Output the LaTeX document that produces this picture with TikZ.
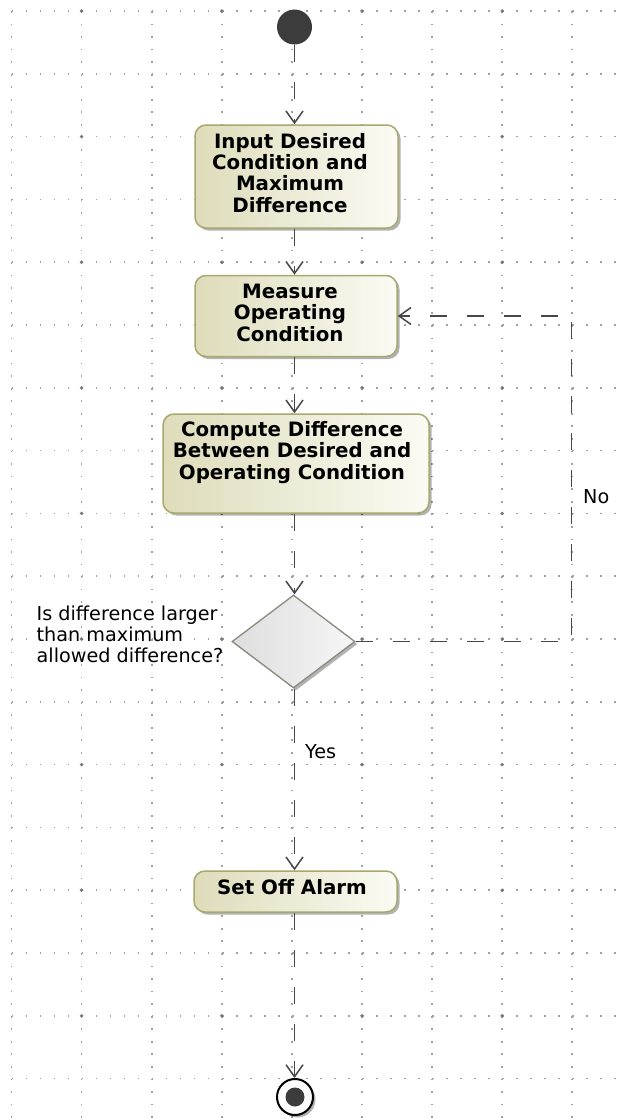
\documentclass[tikz,border=0pt]{standalone}
\usepackage{fontspec}
\setmainfont{DejaVu Sans}
\usetikzlibrary{shapes.geometric,arrows.meta,shadows}

\definecolor{griddot}{RGB}{160,160,160}
\definecolor{gridbig}{RGB}{120,120,120}
\definecolor{flowgray}{RGB}{72,72,72}
\definecolor{boxedge}{RGB}{168,168,112}
\definecolor{boxdark}{RGB}{222,220,186}
\definecolor{boxlight}{RGB}{251,251,244}
\definecolor{decedge}{RGB}{138,138,125}
\definecolor{decdark}{RGB}{222,222,222}
\definecolor{declight}{RGB}{246,246,246}
\definecolor{nodefill}{RGB}{60,60,60}

\tikzset{
  vgrid/.style={draw=griddot, line width=1.7pt, dash pattern=on 1.7pt off 10.86pt},
  hgrid/.style={draw=griddot, line width=1.7pt, dash pattern=on 1.7pt off 12.32pt},
  softshadow/.style={drop shadow={shadow xshift=2.5pt, shadow yshift=-2.5pt, fill=black, opacity=0.3}},
  actbox/.style={rectangle, rounded corners=11pt, draw=boxedge, line width=1.5pt,
    left color=boxdark, right color=boxlight, inner sep=0pt, softshadow},
  decbox/.style={diamond, draw=decedge, line width=1.3pt, left color=decdark,
    right color=declight, inner sep=0pt, softshadow},
  initnode/.style={circle, fill=nodefill, minimum size=35pt, inner sep=0pt},
  finalring/.style={circle, draw=black, line width=2pt, fill=white, minimum size=36pt,
    inner sep=0pt, softshadow},
  finalcore/.style={circle, fill=nodefill, minimum size=19pt, inner sep=0pt},
  boxtext/.style={inner sep=0pt, align=center, text=black,
    font=\fontsize{19.8pt}{21.3pt}\selectfont\bfseries},
  guard/.style={inner sep=0pt, text=black, font=\fontsize{19.2pt}{21pt}\selectfont},
  flow/.style={draw=flowgray, line width=1.5pt, dash pattern=on 17pt off 20pt,
    -{Straight Barb[length=12pt,width=17pt,line width=1.5pt]}}
}

\begin{document}
\begin{tikzpicture}[x=1pt,y=-1pt]
\useasboundingbox (0,0) rectangle (622,1119);
\fill[white] (0,0) rectangle (622,1119);

% dotted drawing grid
\foreach \k in {0,...,8}{
  \draw[vgrid] ({11.5+70.1*\k},11) -- ({11.5+70.1*\k},1119);
}
\foreach \j in {0,...,17}{
  \draw[hgrid] (-2.52,{11+62.8*\j}) -- (622,{11+62.8*\j});
}
\foreach \k in {0,...,3}{
  \foreach \j in {0,...,8}{
    \fill[gridbig] ({81.6+140.2*\k},{11+125.6*\j}) circle (1.9pt);
  }
}

% activity nodes
\node[initnode] (start) at (294.5,27) {};
\node[actbox, minimum width=203pt, minimum height=103pt] (b1) at (296.5,176.5) {};
\node[actbox, minimum width=202pt, minimum height=81pt] (b2) at (296,316) {};
\node[actbox, minimum width=266pt, minimum height=99pt] (b3) at (296,463.5) {};
\node[decbox, minimum width=123pt, minimum height=93pt] (dec) at (293.5,641.5) {};
\node[actbox, minimum width=203pt, minimum height=41pt] (b4) at (295.5,891.5) {};
\node[finalring] (endn) at (295,1097) {};
\node[finalcore] (endcore) at (endn.center) {};

% texts of the actions (anchored on the baseline of their last line)
\node[boxtext, anchor=base] (t1) at (290,212) {Input Desired\\Condition and\\Maximum\\Difference};
\node[boxtext, anchor=base] (t2) at (290,341) {Measure\\Operating\\Condition};
\node[boxtext, anchor=base] (t3) at (292,479) {Compute Difference\\Between Desired and\\Operating Condition};
\node[boxtext, anchor=base] (t4) at (292,894) {Set Off Alarm};

% control flows
\draw[flow] (start.south) -- (start.south |- b1.north);
\draw[flow] (b1.south -| start) -- (b2.north -| start);
\draw[flow] (b2.south -| start) -- (b3.north -| start);
\draw[flow] (b3.south -| start) -- (dec.north -| start);
\draw[flow] (dec.south -| start) -- (b4.north -| start);
\draw[flow] (b4.south -| start) -- (endn.north -| start);
\coordinate (turn) at (571.5,641.5);
\draw[flow] (dec.east) -- (turn) |- (b2.east);

% guards and decision question
\node[guard, anchor=base west] (yes) at (305,758) {Yes};
\node[guard, anchor=base west] (no) at (583,503) {No};
\node[guard, anchor=base west, align=left] (question) at (36.5,662)
  {Is difference larger\\than maximum\\allowed difference?};
\end{tikzpicture}
\end{document}
